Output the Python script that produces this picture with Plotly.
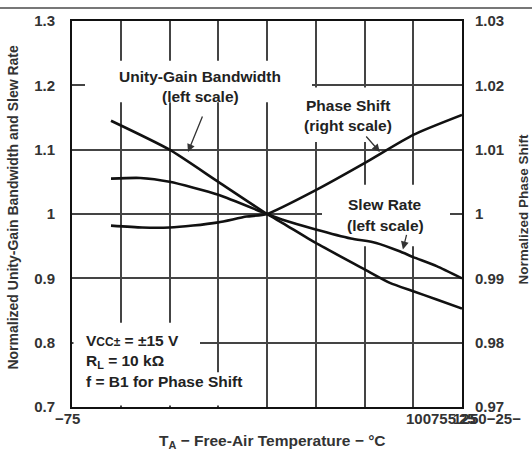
import plotly.graph_objects as go

# ---- data ----
ugb_temp = [-55, -25, 0, 25, 33, 50, 75, 88, 100, 112, 125]
ugb_val = [1.145, 1.100, 1.050, 1.000, 0.986, 0.955, 0.914, 0.893, 0.880, 0.867, 0.853]

slew_temp = [-55, -40, -25, 0, 25, 33, 50, 68, 81, 93, 100, 112, 125]
slew_val = [1.055, 1.056, 1.050, 1.030, 1.000, 0.991, 0.976, 0.962, 0.955, 0.942, 0.933, 0.919, 0.900]

phase_temp = [-55, -39, -25, -13, 0, 14.5, 25, 50, 75, 100, 125]
phase_val = [0.9982, 0.9979, 0.9979, 0.9982, 0.9987, 0.9996, 1.0, 1.0037, 1.0079, 1.0123, 1.0154]

left_ticks = [0.7, 0.8, 0.9, 1.0, 1.1, 1.2, 1.3]
left_labels = ["0.7", "0.8", "0.9", "1", "1.1", "1.2", "1.3"]
right_ticks = [0.97, 0.98, 0.99, 1.0, 1.01, 1.02, 1.03]
right_labels = ["0.97", "0.98", "0.99", "1", "1.01", "1.02", "1.03"]
x_ticks = [-75, -50, -25, 0, 25, 50, 75, 100, 125]

# ---- layout geometry (pixels) ----
W, H = 532, 454
L, R, T, B = 72, 462, 18, 407
PW, PH = R - L, B - T
XMIN, XMAX, YMIN, YMAX = -75, 125, 0.7, 1.3

def px(x):
    return (x - L) / PW

def py(y):
    return (B - y) / PH

def dx(x):
    return XMIN + (x - L) / PW * (XMAX - XMIN)

def dy(y):
    return YMIN + (B - y) / PH * (YMAX - YMIN)

FONT = "Liberation Sans, Arial, sans-serif"
TXT = "#222222"

fig = go.Figure()
line_style = dict(color="#111111", width=2.6, shape="spline", smoothing=0.6)
fig.add_trace(go.Scatter(x=ugb_temp, y=ugb_val, mode="lines", line=line_style,
                         name="Unity-Gain Bandwidth", showlegend=False))
fig.add_trace(go.Scatter(x=slew_temp, y=slew_val, mode="lines", line=line_style,
                         name="Slew Rate", showlegend=False))
fig.add_trace(go.Scatter(x=phase_temp, y=phase_val, mode="lines", line=line_style,
                         name="Phase Shift", yaxis="y2", showlegend=False))

tickfont = dict(family=FONT, size=15, color="#333333", weight="bold")

fig.update_layout(
    width=W, height=H,
    margin=dict(l=L, r=W - R, t=T, b=H - B, pad=0),
    plot_bgcolor="white", paper_bgcolor="white",
    xaxis=dict(range=[XMIN, XMAX], tickvals=x_ticks, showticklabels=False,
               showgrid=True, gridcolor="#444444", gridwidth=1.5,
               showline=True, linecolor="#111111", linewidth=2, mirror=True,
               zeroline=False, ticks=""),
    yaxis=dict(range=[YMIN, YMAX], tickvals=left_ticks, ticktext=left_labels,
               tickfont=tickfont, showgrid=True, gridcolor="#444444", gridwidth=1.5,
               showline=True, linecolor="#111111", linewidth=2, mirror=True,
               zeroline=False, ticks="", ticklabelstandoff=12),
    yaxis2=dict(range=[0.97, 1.03], tickvals=right_ticks, ticktext=right_labels,
                tickfont=tickfont, overlaying="y", side="right", showgrid=False,
                zeroline=False, showline=False, ticks="", ticklabelstandoff=12),
)

# white boxes that interrupt the grid behind the labels
boxes = [
    (85, 58, 312, 100),
    (296, 85, 400, 140),
    (322, 183, 450, 245),
    (73.5, 322, 200, 405.5),
    (200, 372, 255, 405.5),
]
for x0, y0, x1, y1 in boxes:
    fig.add_shape(type="rect", xref="x", yref="y",
                  x0=dx(x0), x1=dx(x1), y0=dy(y1), y1=dy(y0),
                  fillcolor="white", line=dict(width=0), layer="between")

# top border line of the figure
fig.add_shape(type="line", xref="paper", yref="paper",
              x0=px(0), x1=px(W), y0=py(5), y1=py(5),
              line=dict(color="#777777", width=2), layer="above")

def text(x, y, s, size=15, xanchor="center", angle=0, bold=True, color=TXT):
    fig.add_annotation(x=px(x), y=py(y), xref="paper", yref="paper", text=s,
                       showarrow=False, xanchor=xanchor, yanchor="middle",
                       textangle=angle,
                       font=dict(family=FONT, size=size, color=color,
                                 weight="bold" if bold else "normal"))

# curve labels
text(200, 74, "Unity-Gain Bandwidth", 15.5)
text(200, 94, "(left scale)", 15.5)
text(348, 103, "Phase Shift", 15.5)
text(348, 123, "(right scale)", 15.5)
text(385, 203, "Slew Rate", 15.5)
text(385, 224, "(left scale)", 15.5)

# conditions block
text(84, 340, "V<span style='font-size:12px'>CC±</span> = ±15 V", 15.5, xanchor="left")
text(84, 361, "R<sub>L</sub> = 10 kΩ", 15.5, xanchor="left")
text(84, 381, "f = B1 for Phase Shift", 15.5, xanchor="left")

# arrows (head on curve, tail offset in pixels)
arrows = [(-15.5, 1.0964, 15, -37), (82.9, 1.0964, -15, -17), (94.7, 0.945, 4, -16)]
for hx, hy, ax, ay in arrows:
    fig.add_annotation(x=hx, y=hy, xref="x", yref="y", ax=ax, ay=ay, text="",
                       showarrow=True, arrowhead=2, arrowsize=1.2, arrowwidth=1.3,
                       arrowcolor="#333333")

# axis titles
text(13, 206, "Normalized Unity-Gain Bandwidth and Slew Rate", 14, angle=-90,
     color="#333333")
text(524, 208, "Normalized Phase Shift", 13.5, angle=-90, color="#333333")
text(272, 442, "T<sub>A</sub> − Free-Air Temperature − °C", 15.5, color="#333333")

# x tick labels (as they appear in the reference)
text(67, 419, "−75", 15, color="#333333")
text(404, 419, "100755", 15, xanchor="left", color="#333333")
text(451, 419, "125", 15, xanchor="left", color="#333333")
text(457, 419, "25", 15, xanchor="left", color="#333333")
text(468, 419, "50−25−", 15, xanchor="left", color="#333333")

fig.write_html("out.html")
